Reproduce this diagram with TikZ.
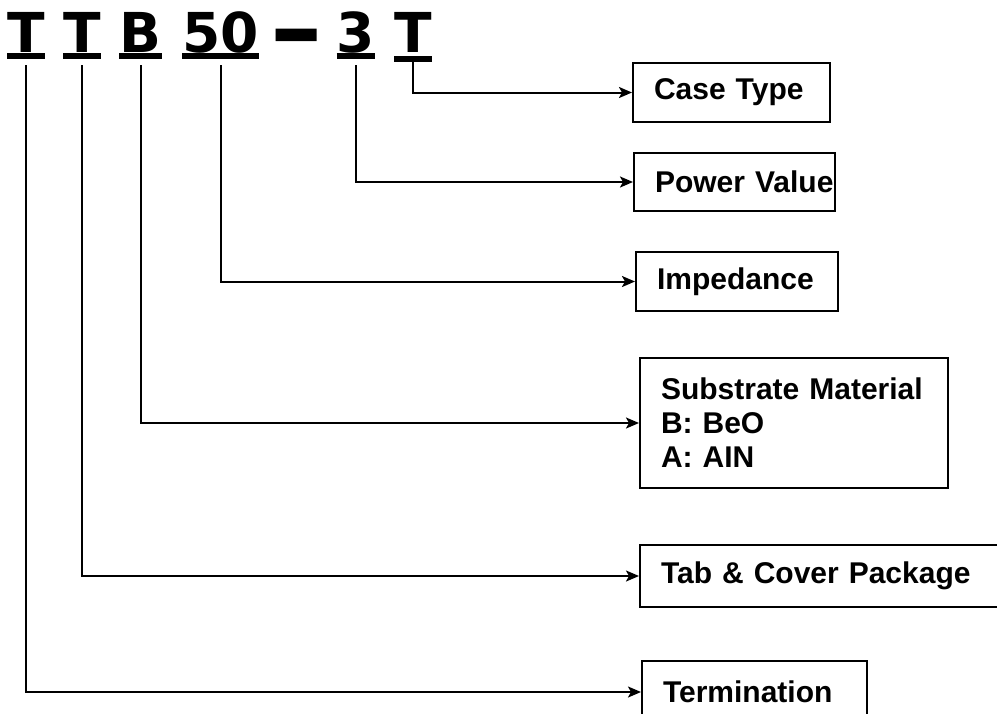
\documentclass[tikz,border=0pt]{standalone}
\usepackage{fontspec}
\setmainfont{Liberation Sans}
\newfontfamily\codefont{DejaVu Sans}
\usepackage{tikz}
\usetikzlibrary{arrows.meta,positioning}
\tikzset{
    %Define standard arrow tip
    >={Stealth[length=13pt,width=11pt,inset=3pt]},
    %Define style for the part number letters
    code/.style={
           anchor=base,
           inner sep=0pt,
           font=\codefont\bfseries\fontsize{55}{60}\selectfont},
    %Define style for the bars under the letters
    uline/.style={
           line width=6pt},
    %Define style for boxes
    infobox/.style={
           rectangle,
           draw=black, line width=2pt,
           anchor=north west,
           inner xsep=21pt,
           align=left,
           font=\bfseries\fontsize{30}{34}\selectfont},
    % Define arrow style
    link/.style={
           ->,
           line width=2pt}
}
\begin{document}
\begin{tikzpicture}[x=1pt,y=-1pt]
\useasboundingbox (0,0) rectangle (997,713);
 %letters
\node[code] (term c) at (26,52) {T};
\node[code] (tab c) at (82,52) {T};
\node[code] (sub c) at (140.5,52) {B};
\node[code] (imp c) at (220.5,52) {50};
\node[code] (dash) at (297,52) {\scalebox{1.9}[1.8]{\raisebox{-6pt}{\textendash}}};
\node[code] (pow c) at (356,52) {3};
\node[code] (case c) at (413,52) {T};
\foreach \n in {term c,tab c,sub c,imp c,pow c}
    \draw[uline] ([yshift=-4pt]\n.base west) -- ([yshift=-4pt]\n.base east);
\draw[uline] ([yshift=-7pt]case c.base west) -- ([yshift=-7pt]case c.base east);
 %boxes
\node[infobox, minimum width=197pt, minimum height=59pt, text width=155pt] (case) at (632,62) {Case Type};
\node[infobox, minimum width=201pt, minimum height=58pt, text width=159pt] (pow) at (633,152) {Power~Value};
\node[infobox, minimum width=202pt, minimum height=59pt, text width=160pt] (imp) at (635,251) {Impedance};
\node[infobox, minimum width=308pt, minimum height=130pt, text width=266pt] (sub) at (639,357) {Substrate Material\\B: BeO\\A: AIN};
\node[infobox, minimum width=380pt, minimum height=62pt, text width=338pt] (tab) at (639,544) {Tab \& Cover Package};
\node[infobox, minimum width=225pt, minimum height=62pt, text width=183pt] (term) at (641,660) {Termination};
 %connectors
\draw[link] ([yshift=-10pt]case c.base) |- (case.west);
\draw[link] ([yshift=-13pt]pow c.base) |- (pow.west);
\draw[link] ([yshift=-13pt]imp c.base) |- (imp.west);
\draw[link] ([yshift=-13pt]sub c.base) |- (sub.west);
\draw[link] ([yshift=-13pt]tab c.base) |- (tab.west);
\draw[link] ([yshift=-13pt]term c.base) |- (term.west);
\end{tikzpicture}
\end{document}
